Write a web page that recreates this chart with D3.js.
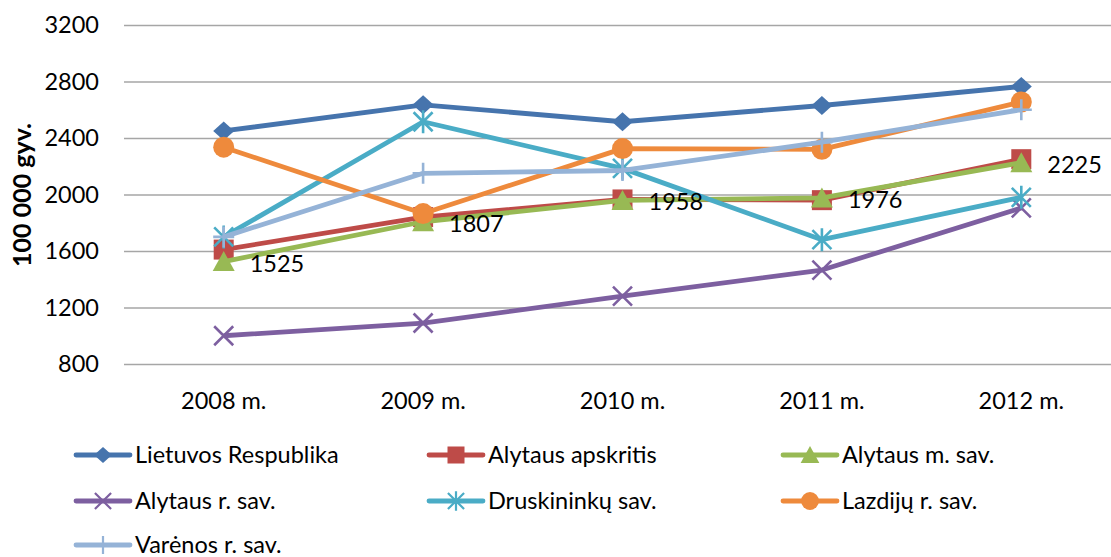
<!DOCTYPE html>
<html><head><meta charset="utf-8">
<script src="https://cdn.jsdelivr.net/npm/d3@7"></script>
<style>
body{margin:0;background:#fff;}
svg text{font-family:Lato, "Open Sans", sans-serif;fill:#000;}
</style>
</head><body>
<svg id="chart" width="1111" height="557"></svg>
<script>
// ---- data ----
const years = ["2008 m.", "2009 m.", "2010 m.", "2011 m.", "2012 m."];
const seriesNames = ["Lietuvos Respublika", "Alytaus apskritis", "Alytaus m. sav.",
  "Alytaus r. sav.", "Druskininkų sav.", "Lazdijų r. sav.", "Varėnos r. sav."];
const lietuvosRespublika = [2450, 2635, 2515, 2630, 2765];
const alytausApskritis   = [1610, 1840, 1965, 1960, 2250];
const alytausMSav        = [1525, 1807, 1958, 1976, 2225];
const alytausRSav        = [1000, 1090, 1280, 1465, 1905];
const druskininkuSav     = [1700, 2515, 2185, 1680, 1980];
const lazdijuRSav        = [2335, 1865, 2325, 2320, 2655];
const varenosRSav        = [1700, 2150, 2170, 2370, 2600];
const yTicks = [800, 1200, 1600, 2000, 2400, 2800, 3200];
const yTitle = "100 000 gyv.";
const labelledSeries = 2; // data labels shown for "Alytaus m. sav."

const values = [lietuvosRespublika, alytausApskritis, alytausMSav, alytausRSav,
  druskininkuSav, lazdijuRSav, varenosRSav];
const colors = ["#4674AD", "#BE4B48", "#98B954", "#7D5FA0", "#4AACC6", "#EE8A3C", "#95B3D7"];
const markers = ["diamond", "square", "triangle", "x", "star", "circle", "plus"];

// ---- layout ----
const svg = d3.select("#chart");
const x = d3.scaleBand().domain(years).range([124, 1121]).padding(0);
const cx = d => x(d) + x.bandwidth() / 2;
const y = d3.scaleLinear().domain([800, 3200]).range([364, 25]);
const FS = 23.5;

// y axis with gridlines
const gy = svg.append("g").attr("transform", "translate(124,0)")
  .call(d3.axisLeft(y).tickValues(yTicks).tickSize(-997).tickPadding(25).tickFormat(d3.format("d")));
gy.select(".domain").remove();
gy.selectAll(".tick line").attr("stroke", "#A6A6A6").attr("stroke-width", 1.5);
gy.selectAll(".tick text").attr("font-size", FS).attr("font-family", "Lato").attr("fill", "#111");

// x axis labels
const gx = svg.append("g").attr("transform", "translate(0,364)")
  .call(d3.axisBottom(x).tickSize(0).tickPadding(28));
gx.select(".domain").remove();
gx.selectAll(".tick text").attr("font-size", FS).attr("font-family", "Lato").attr("fill", "#111");

// y title
svg.append("text").attr("transform", "translate(31,195) rotate(-90)")
  .attr("text-anchor", "middle").attr("font-weight", "bold").attr("font-size", 25)
  .text(yTitle);

// marker drawing
function drawMarker(g, type, color, s) {
  const sw = 2.6 * s;
  if (type === "diamond") {
    g.append("path").attr("d", `M0,${-9.5*s}L${10.5*s},0L0,${9.5*s}L${-10.5*s},0Z`).attr("fill", color);
  } else if (type === "square") {
    g.append("rect").attr("x", -10*s).attr("y", -10*s).attr("width", 20*s).attr("height", 20*s).attr("fill", color);
  } else if (type === "triangle") {
    g.append("path").attr("d", `M0,${-10.5*s}L${11*s},${9.5*s}L${-11*s},${9.5*s}Z`).attr("fill", color);
  } else if (type === "circle") {
    g.append("circle").attr("r", 10.5*s).attr("fill", color);
  } else if (type === "x") {
    g.append("path").attr("d", `M${-9.5*s},${-9.5*s}L${9.5*s},${9.5*s}M${-9.5*s},${9.5*s}L${9.5*s},${-9.5*s}`)
      .attr("stroke", color).attr("stroke-width", sw).attr("fill", "none");
  } else if (type === "star") {
    g.append("path").attr("d", `M${-9.5*s},${-9.5*s}L${9.5*s},${9.5*s}M${-9.5*s},${9.5*s}L${9.5*s},${-9.5*s}M0,${-11.5*s}L0,${11.5*s}`)
      .attr("stroke", color).attr("stroke-width", sw).attr("fill", "none");
  } else if (type === "plus") {
    g.append("path").attr("d", `M${-10.5*s},0L${10.5*s},0M0,${-10.5*s}L0,${10.5*s}`)
      .attr("stroke", color).attr("stroke-width", sw).attr("fill", "none");
  }
}

// series
const line = d3.line().x((d, i) => cx(years[i])).y(d => y(d));
values.forEach((vals, si) => {
  const g = svg.append("g");
  g.append("path").datum(vals).attr("d", line).attr("fill", "none")
    .attr("stroke", colors[si]).attr("stroke-width", 4.8).attr("stroke-linejoin", "round");
  vals.forEach((v, i) => {
    const m = g.append("g").attr("transform", `translate(${cx(years[i])},${y(v)})`);
    drawMarker(m, markers[si], colors[si], 1);
  });
});

// data labels
values[labelledSeries].forEach((v, i) => {
  svg.append("text").attr("x", cx(years[i]) + 26).attr("y", y(v) + 10)
    .attr("font-size", FS).attr("fill", "#111").text(v);
});

// legend
const legCols = [76, 429, 783];
const legRows = [455, 501, 545];
seriesNames.forEach((name, si) => {
  const lx = legCols[si % 3], ly = legRows[Math.floor(si / 3)];
  const g = svg.append("g").attr("transform", `translate(${lx},${ly})`);
  g.append("line").attr("x1", 0).attr("x2", 54).attr("stroke", colors[si])
    .attr("stroke-width", 4.8).attr("stroke-linecap", "round");
  const m = g.append("g").attr("transform", "translate(27,0)");
  drawMarker(m, markers[si], colors[si], 0.85);
  g.append("text").attr("x", 59).attr("y", 7.5).attr("font-size", FS).attr("fill", "#111").text(name);
});
</script>
</body></html>
